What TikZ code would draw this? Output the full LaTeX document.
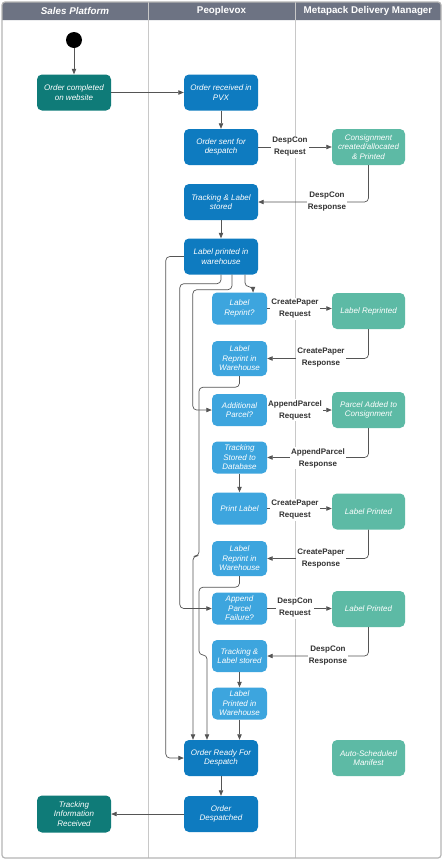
\documentclass[tikz,border=0pt]{standalone}
\usepackage{fontspec}
\setmainfont{Liberation Sans}
\usetikzlibrary{arrows.meta}
\definecolor{hdr}{HTML}{6D7383}
\definecolor{dteal}{HTML}{0F7B78}
\definecolor{mblue}{HTML}{0E7BC0}
\definecolor{lblue}{HTML}{3DA5DE}
\definecolor{lteal}{HTML}{5DBAA5}
\definecolor{lanec}{HTML}{C8C8C8}
\definecolor{linec}{HTML}{555555}
\definecolor{labc}{HTML}{333333}
\begin{document}
\begin{tikzpicture}[x=1pt,y=-1pt,
  box/.style={rounded corners=5pt, align=center, text=white, inner sep=1pt,
    font=\fontsize{8}{9.6}\selectfont\itshape},
  bigbox/.style={box, minimum width=74pt, minimum height=36pt},
  smallbox/.style={box, fill=lblue, minimum width=55pt, minimum height=32pt},
  tealbox/.style={box, fill=lteal, minimum width=73pt, minimum height=36pt},
  arr/.style={draw=linec, line width=0.7pt, -{Triangle[length=5.5pt,width=4.4pt]}, rounded corners=4pt},
  elab/.style={fill=white, inner sep=1pt, align=center, text=labc,
    font=\fontsize{8}{12}\selectfont\bfseries},
  hdrtxt/.style={text=white, font=\fontsize{9.8}{11}\selectfont\bfseries}
]
\useasboundingbox (0,0) rectangle (446,865);
% lanes
\fill[white] (2,2) rectangle (441,858);
\fill[hdr] (2,20) [rounded corners=3pt] -- (2,2) -- (441,2) [sharp corners] -- (441,20) -- cycle;
\draw[lanec, line width=0.9pt] (148,2) -- (148,858);
\draw[lanec, line width=0.9pt] (295,2) -- (295,858);
\draw[lanec!90!black, line width=1.2pt, rounded corners=3pt] (2,2) rectangle (441,858);
\node[hdrtxt, font=\fontsize{9.8}{11}\selectfont\bfseries\itshape] (h1) at (75,11) {Sales Platform};
\node[hdrtxt] (h2) at (221.5,11) {Peoplevox};
\node[hdrtxt] (h3) at (368,11) {Metapack Delivery Manager};

% nodes
\node[circle, fill=black, minimum size=16pt, inner sep=0pt] (start) at (74,40) {};
\node[bigbox, fill=dteal] (ocw) at (74,92.5) {Order completed\\on website};
\node[bigbox, fill=mblue] (orp) at (221,92.5) {Order received in\\PVX};
\node[bigbox, fill=mblue] (osd) at (221,147) {Order sent for\\despatch};
\node[tealbox] (cons) at (368.5,147) {Consignment\\created/allocated\\\& Printed};
\node[bigbox, fill=mblue] (tls) at (221,202) {Tracking \& Label\\stored};
\node[bigbox, fill=mblue] (lpw) at (221,256.5) {Label printed in\\warehouse};

\node[smallbox] (lr) at (239.5,308.5) {Label\\Reprint?};
\node[smallbox, minimum height=35pt] (lrw1) at (239.5,358.5) {Label\\Reprint in\\Warehouse};
\node[smallbox] (ap) at (239.5,410) {Additional\\Parcel?};
\node[smallbox] (tsd) at (239.5,457.5) {Tracking\\Stored to\\Database};
\node[smallbox] (pl) at (239.5,508.5) {Print Label};
\node[smallbox, minimum height=35pt] (lrw2) at (239.5,558.5) {Label\\Reprint in\\Warehouse};
\node[smallbox] (apf) at (239.5,608.5) {Append\\Parcel\\Failure?};
\node[smallbox] (tls2) at (239.5,656) {Tracking \&\\Label stored};
\node[smallbox] (lpiw) at (239.5,703.5) {Label\\Printed in\\Warehouse};

\node[tealbox] (lrp) at (368.5,311) {Label Reprinted};
\node[tealbox] (pac) at (368.5,410) {Parcel Added to\\Consignment};
\node[tealbox] (lp1) at (368.5,511.5) {Label Printed};
\node[tealbox] (lp2) at (368.5,609) {Label Printed};

\node[bigbox, fill=mblue] (ord) at (221,758) {Order Ready For\\Despatch};
\node[bigbox, fill=mblue] (odp) at (221,814) {Order\\Despatched};
\node[bigbox, fill=dteal, minimum height=37pt] (tir) at (74,814) {Tracking\\Information\\Received};
\node[tealbox] (asm) at (368.5,758) {Auto-Scheduled\\Manifest};

% main flow
\draw[arr] (start) -- (ocw);
\draw[arr] (ocw) -- (orp);
\draw[arr] (orp) -- (osd);
\draw[arr] (osd) -- (cons);
\draw[arr] (cons.south) |- (tls.east);
\draw[arr] (tls) -- (lpw);

\draw[arr] (lr.east) -- (lrp.west |- lr.east);
\draw[arr] (lrp.south) |- (lrw1.east);
\draw[arr] (ap.east) -- (pac.west |- ap.east);
\draw[arr] (pac.south) |- (tsd.east);
\draw[arr] (tsd) -- (pl);
\draw[arr] (pl.east) -- (lp1.west |- pl.east);
\draw[arr] (lp1.south) |- (lrw2.east);
\draw[arr] (apf.east) -- (lp2.west |- apf.east);
\draw[arr] (lp2.south) |- (tls2.east);
\draw[arr] (tls2) -- (lpiw);
\draw[arr] (lpiw.south) -- (lpiw.south |- ord.north);
\draw[arr] (ord) -- (odp);
\draw[arr] (odp) -- (tir);

% branches from label printed in warehouse
\draw[arr] (lpw.west) -- ++(-18,0) |- (ord.west);
\draw[arr] (lpw.south) -- ++(0,9) -| ([xshift=-32pt]apf.west) -- (apf.west);
\draw[arr] ([xshift=11pt]lpw.south) -- ++(0,15) -| ([xshift=-19pt]ap.west) -- (ap.west);
\draw[arr] ([xshift=24pt]lpw.south) -- ++(0,12) -| ([xshift=13.5pt]lr.north);
\draw[arr] (lrw1.south) -- ++(0,11) -| (199,556) -- (193,556) -- ([xshift=-28pt]ord.north);
\draw[arr] (lrw2.south) -- ++(0,11) -| (199,655) -- (207,655) -- ([xshift=-14pt]ord.north);

% edge labels
\node[elab] (l1) at (290,147) {DespCon\\Request};
\node[elab] (l2) at (327,202) {DespCon\\Response};
\node[elab] (l3) at (295,309) {CreatePaper\\Request};
\node[elab] (l4) at (321,358) {CreatePaper\\Response};
\node[elab] (l5) at (295,410) {AppendParcel\\Request};
\node[elab] (l6) at (318,458) {AppendParcel\\Response};
\node[elab] (l7) at (295,510) {CreatePaper\\Request};
\node[elab] (l8) at (321,559) {CreatePaper\\Response};
\node[elab] (l9) at (295,608) {DespCon\\Request};
\node[elab] (l10) at (328,656) {DespCon\\Response};
\end{tikzpicture}
\end{document}
